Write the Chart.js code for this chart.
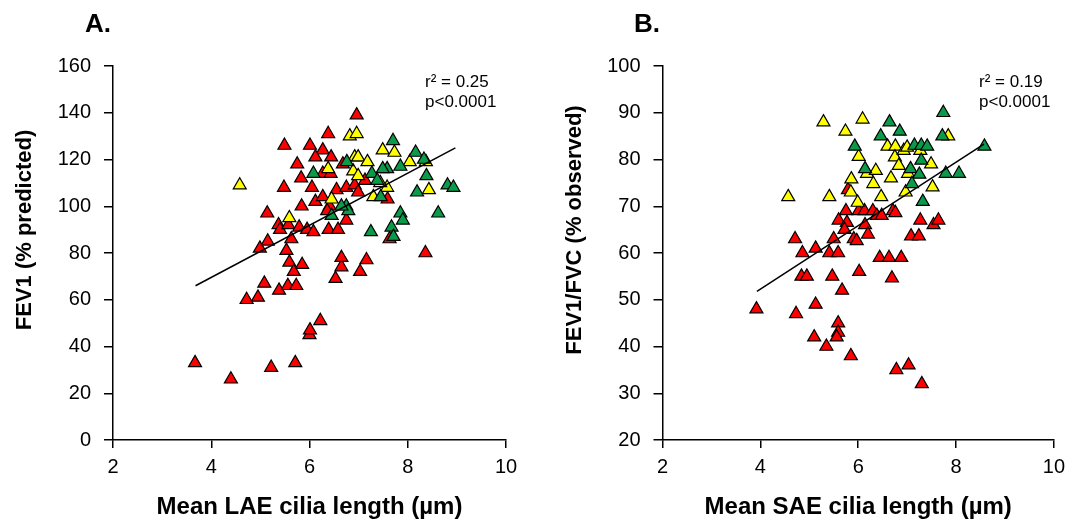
<!DOCTYPE html>
<html>
<head>
<meta charset="utf-8">
<script src="https://cdn.jsdelivr.net/npm/chart.js@4.4.1/dist/chart.umd.min.js"></script>
<style>
  body { margin: 0; background: #fff; }
  .panel { position: absolute; top: 0; width: 536px; height: 526px; }
  #panelA { left: 0; }
  #panelB { left: 536px; }
</style>
</head>
<body>
<div class="panel" id="panelA"><canvas id="chartA"></canvas></div>
<div class="panel" id="panelB"><canvas id="chartB"></canvas></div>
<script>
// Panel A: LAE cilia length vs FEV1 (% predicted)
const laeRed = [
  [3.67,33],[4.40,26],[5.22,31],[5.71,33],[6.00,45],[6.01,47],[6.22,51],
  [4.72,60],[4.95,61],[5.08,67],[5.38,64],[5.56,66],[5.73,66],
  [4.99,82],[5.15,85],[5.53,81],[5.59,76],[5.68,72],[5.85,75],[5.63,86],
  [6.53,69],[6.65,74],[6.65,78],[7.03,72],[7.16,77],[8.36,80],[7.63,86],
  [5.14,97],[5.37,92],[5.40,90],[5.57,92],[5.84,100],[5.79,91],[5.95,90],[6.08,89],
  [6.05,108],[5.83,112],[5.48,108],[5.75,118],[5.49,126],[6.01,126],[6.38,131],
  [6.27,124],[6.12,121],[6.44,121],[6.27,114],[6.43,114],[6.12,102],[6.27,104],
  [6.41,100],[6.55,107],[6.75,108],[6.92,109],[6.99,106],[7.13,111],[6.39,90],
  [6.58,90],[6.75,94],[6.68,118],[7.59,103],[6.36,98],[6.96,139]
];
const laeYellow = [
  [4.58,109],[5.59,95],[6.82,130],[6.96,131],[6.92,121],[6.99,121],[6.89,115],
  [7.18,119],[7.49,124],[7.73,123],[8.04,119],[8.37,119],[8.43,107],[7.58,108],
  [7.30,104],[7.44,110],[6.38,116],[6.99,113],[6.45,103]
];
const laeGreen = [
  [7.70,128],[8.16,123],[8.33,120],[8.81,109],[8.93,108],[8.38,113],[8.19,106],
  [8.62,97],[7.85,117],[7.58,116],[7.49,116],[7.27,114],[6.76,119],[6.08,114],
  [7.38,111],[7.45,104],[7.85,97],[7.90,94],[7.67,91],[7.71,87],[7.25,89],
  [6.75,100],[6.79,98],[6.45,96],[6.65,100]
];
const laeFit = [[3.68,66],[8.97,125]];

// Panel B: SAE cilia length vs FEV1/FVC (% observed)
const saeRed = [
  [3.92,48],[4.71,63],[4.86,60],[4.73,47],[4.84,55],[4.95,55],[5.13,61],[5.13,49],
  [5.10,42],[5.35,40],[5.41,60],[5.50,63],[5.59,60],[5.47,55],[5.67,52],[5.59,45],
  [5.59,43],[5.56,42],[5.85,38],[5.60,67],[5.75,69],[5.77,66.5],[5.72,65],[5.91,63],
  [5.97,62.6],[6.02,56],[5.79,73.5],[6.01,69],[6.13,69],[6.14,66],[6.20,64],[6.30,69],
  [6.38,68],[6.48,68],[6.44,59],[6.63,59],[6.71,69],[6.76,68.6],[6.69,54.6],[6.88,59],
  [6.78,35],[7.03,36],[7.30,32],[7.08,63.6],[7.24,63.6],[7.27,67],[7.54,66],[7.64,67]
];
const saeYellow = [
  [4.57,72],[5.41,72],[5.29,88],[5.74,86],[6.09,88.6],[6.01,80.6],[5.86,75.8],[5.85,73],
  [5.99,70.8],[6.18,77],[6.36,77.6],[6.31,74.8],[6.47,72],[6.67,76],[6.60,82.8],[6.76,82.8],
  [6.75,80.5],[6.83,78.7],[6.93,81.9],[7.00,82.6],[7.02,77],[6.97,73],[7.27,81.9],
  [7.49,79],[7.52,74.1],[7.84,85]
];
const saeGreen = [
  [5.93,82.8],[6.14,78],[6.46,85],[6.64,88],[6.85,86],[7.15,83],[7.29,83],[7.41,82.8],
  [7.29,79.8],[7.07,78],[7.25,76.8],[7.10,74.8],[7.32,71],[7.74,90],[7.72,85],[7.79,77],
  [8.06,77],[8.58,82.8]
];
const saeFit = [[3.93,51.8],[8.57,83.3]];

const xTicks = [2, 4, 6, 8, 10];
const laeYTicks = [0, 20, 40, 60, 80, 100, 120, 140, 160];
const saeYTicks = [20, 30, 40, 50, 60, 70, 80, 90, 100];

const RED = '#ff0000', YELLOW = '#ffff00', GREEN = '#0a9a4a';
const FONT = '"Liberation Sans", Arial, sans-serif';
Chart.defaults.font.family = FONT;
Chart.defaults.color = '#000';

const toPts = arr => arr.map(p => ({x: p[0], y: p[1]}));

function markers(data, color, order) {
  return {
    data: toPts(data), order: order,
    pointStyle: 'triangle', pointRadius: 7.5, pointHoverRadius: 7.5,
    backgroundColor: color, borderColor: '#000', borderWidth: 1.2
  };
}

// letters, stats and y titles drawn on the canvas
const panelText = {
  id: 'panelText',
  afterDraw(chart, args, o) {
    const ctx = chart.ctx;
    ctx.save();
    ctx.fillStyle = '#000';
    ctx.textBaseline = 'alphabetic';
    ctx.textAlign = 'left';
    ctx.font = 'bold 26px ' + FONT;
    ctx.fillText(o.letter, o.letterX, 32);
    ctx.font = '17px ' + FONT;
    ctx.fillText(o.stats[0], o.statsX, 87);
    ctx.fillText(o.stats[1], o.statsX, 107);
    ctx.translate(o.yTitleX, 230);
    ctx.rotate(-Math.PI / 2);
    ctx.textAlign = 'center';
    ctx.textBaseline = 'middle';
    ctx.font = 'bold 22px ' + FONT;
    ctx.fillText(o.yTitle, 0, 0);
    ctx.restore();
  }
};

function makeChart(id, p) {
  new Chart(document.getElementById(id), {
    type: 'scatter',
    data: {
      datasets: [
        {data: toPts(p.fit), type: 'line', showLine: true, order: 0,
         borderColor: '#000', borderWidth: 1.5, pointRadius: 0, fill: false},
        markers(p.green, GREEN, 1),
        markers(p.yellow, YELLOW, 2),
        markers(p.red, RED, 3)
      ]
    },
    options: {
      responsive: true, maintainAspectRatio: false, animation: false,
      layout: {padding: {left: 0, right: p.padRight, top: 66, bottom: 0}},
      plugins: {
        legend: {display: false}, tooltip: {enabled: false},
        panelText: {letter: p.letter, letterX: p.letterX, stats: p.stats, statsX: p.statsX,
                    yTitle: p.yTitle, yTitleX: p.yTitleX}
      },
      scales: {
        x: {
          type: 'linear', min: xTicks[0], max: xTicks[xTicks.length - 1],
          afterBuildTicks: s => { s.ticks = xTicks.map(v => ({value: v})); },
          afterFit: s => { s.height = 86; },
          ticks: {font: {size: 20}, padding: 7, color: '#000'},
          grid: {drawOnChartArea: false, tickLength: 8, color: '#000', lineWidth: 1.5},
          border: {color: '#000', width: 1.5},
          title: {display: true, text: p.xTitle, font: {size: 24, weight: 'bold'},
                  color: '#000', padding: {top: 0, bottom: 4}}
        },
        y: {
          type: 'linear', min: p.yTicks[0], max: p.yTicks[p.yTicks.length - 1],
          afterBuildTicks: s => { s.ticks = p.yTicks.map(v => ({value: v})); },
          afterFit: s => { s.width = p.yWidth; },
          ticks: {font: {size: 20}, padding: 13, color: '#000'},
          grid: {drawOnChartArea: false, tickLength: 9, color: '#000', lineWidth: 1.5},
          border: {color: '#000', width: 1.5}
        }
      }
    },
    plugins: [panelText]
  });
}

makeChart('chartA', {
  red: laeRed, yellow: laeYellow, green: laeGreen, fit: laeFit, yTicks: laeYTicks,
  yWidth: 113, padRight: 30, letter: 'A.', letterX: 85,
  stats: ['r² = 0.25', 'p<0.0001'], statsX: 425,
  yTitle: 'FEV1 (% predicted)', yTitleX: 25,
  xTitle: 'Mean LAE cilia length (µm)'
});

makeChart('chartB', {
  red: saeRed, yellow: saeYellow, green: saeGreen, fit: saeFit, yTicks: saeYTicks,
  yWidth: 126.5, padRight: 15, letter: 'B.', letterX: 98,
  stats: ['r² = 0.19', 'p<0.0001'], statsX: 443,
  yTitle: 'FEV1/FVC (% observed)', yTitleX: 38.5,
  xTitle: 'Mean SAE cilia length (µm)'
});
</script>
</body>
</html>
